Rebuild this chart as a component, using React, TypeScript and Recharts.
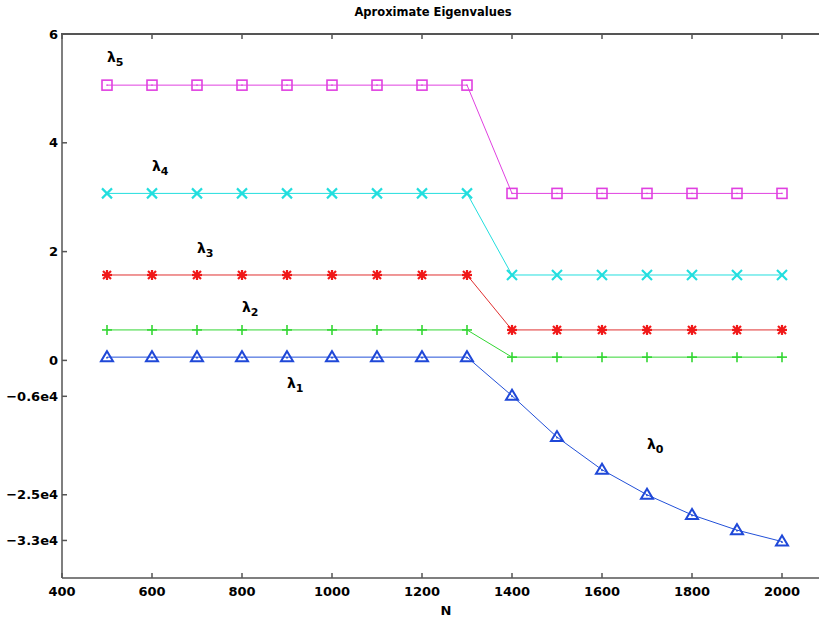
import { ComposedChart, Line, XAxis, YAxis, ReferenceDot } from "recharts";

// N values along the x axis
const nValues = [500, 600, 700, 800, 900, 1000, 1100, 1200, 1300, 1400, 1500, 1600, 1700, 1800, 1900, 2000];

// eigenvalue curves (upper part in plain units, lower blue part in 1e4 units)
const lambda5 = [5.06, 5.06, 5.06, 5.06, 5.06, 5.06, 5.06, 5.06, 5.06, 3.07, 3.07, 3.07, 3.07, 3.07, 3.07, 3.07];
const lambda4 = [3.07, 3.07, 3.07, 3.07, 3.07, 3.07, 3.07, 3.07, 3.07, 1.57, 1.57, 1.57, 1.57, 1.57, 1.57, 1.57];
const lambda3 = [1.57, 1.57, 1.57, 1.57, 1.57, 1.57, 1.57, 1.57, 1.57, 0.56, 0.56, 0.56, 0.56, 0.56, 0.56, 0.56];
const lambda2 = [0.56, 0.56, 0.56, 0.56, 0.56, 0.56, 0.56, 0.56, 0.56, 0.06, 0.06, 0.06, 0.06, 0.06, 0.06, 0.06];
const lambda1 = [0.06, 0.06, 0.06, 0.06, 0.06, 0.06, 0.06, 0.06, 0.06, -0.65, -1.41, -2.01, -2.47, -2.84, -3.12, -3.33];

const xTicks = [400, 600, 800, 1000, 1200, 1400, 1600, 1800, 2000];
const yTicks = [6, 4, 2, 0, -0.66, -2.47, -3.31];
const yTickLabels = ["6", "4", "2", "0", "\u22120.6e4", "\u22122.5e4", "\u22123.3e4"];

// curve labels: subscript, N, y
const labelSubs = ["5", "4", "3", "2", "1", "0"];
const labelN = [500, 600, 700, 800, 900, 1700];
const labelY = [5.58, 3.57, 2.07, 0.98, -0.41, -1.54];

const data = nValues.map((n, i) => ({
  N: n,
  l5: lambda5[i],
  l4: lambda4[i],
  l3: lambda3[i],
  l2: lambda2[i],
  l1: lambda1[i],
}));

const FONT = "'DejaVu Sans', sans-serif";
const AXIS = "#555";
const Y_TOP = 6;

const squareDot = (color: string) => (p: any) => (
  <g key={`s-${p.index}`}>
    <rect x={p.cx - 5} y={p.cy - 5} width={10} height={10} fill="none" stroke={color} strokeWidth={1.6} />
    <rect x={p.cx - 0.7} y={p.cy - 0.7} width={1.4} height={1.4} fill={color} />
  </g>
);

const crossDot = (color: string) => (p: any) => (
  <g key={`x-${p.index}`} stroke={color} strokeWidth={2.2}>
    <line x1={p.cx - 5} y1={p.cy - 5} x2={p.cx + 5} y2={p.cy + 5} />
    <line x1={p.cx - 5} y1={p.cy + 5} x2={p.cx + 5} y2={p.cy - 5} />
  </g>
);

const starDot = (color: string) => (p: any) => (
  <g key={`a-${p.index}`} stroke={color} strokeWidth={2.2}>
    <line x1={p.cx - 5} y1={p.cy} x2={p.cx + 5} y2={p.cy} />
    <line x1={p.cx} y1={p.cy - 5} x2={p.cx} y2={p.cy + 5} />
    <line x1={p.cx - 4} y1={p.cy - 4} x2={p.cx + 4} y2={p.cy + 4} />
    <line x1={p.cx - 4} y1={p.cy + 4} x2={p.cx + 4} y2={p.cy - 4} />
  </g>
);

const plusDot = (color: string) => (p: any) => (
  <g key={`p-${p.index}`} stroke={color} strokeWidth={1.6}>
    <line x1={p.cx - 5} y1={p.cy} x2={p.cx + 5} y2={p.cy} />
    <line x1={p.cx} y1={p.cy - 5} x2={p.cx} y2={p.cy + 5} />
  </g>
);

const triDot = (color: string) => (p: any) => (
  <g key={`t-${p.index}`}>
    <polygon
      points={`${p.cx},${p.cy - 6} ${p.cx - 6},${p.cy + 4} ${p.cx + 6},${p.cy + 4}`}
      fill="none"
      stroke={color}
      strokeWidth={2}
    />
    <rect x={p.cx - 0.8} y={p.cy - 0.2} width={1.6} height={1.6} fill={color} />
  </g>
);

const lambdaLabel = (sub: string) => (p: any) => (
  <text x={p.cx} y={p.cy + 5} fontFamily={FONT} fontWeight="bold" fontSize={14} fill="#000">
    λ
    <tspan fontSize={11} dy={4}>
      {sub}
    </tspan>
  </text>
);

// top frame tick pointing down into the plot
const topTick = (p: any) => (
  <line x1={p.cx} y1={p.cy} x2={p.cx} y2={p.cy + 5} stroke={AXIS} strokeWidth={1.5} />
);

const App = () => {
  const fmtY = (v: number) => {
    const i = yTicks.indexOf(v);
    return i >= 0 ? yTickLabels[i] : "";
  };
  const textStyle = {
    position: "absolute" as const,
    fontFamily: FONT,
    fontWeight: "bold" as const,
    color: "#000",
    lineHeight: "14px",
    textAlign: "center" as const,
  };
  return (
    <div style={{ position: "absolute", left: 0, top: 0, width: 819, height: 618, overflow: "hidden", background: "#fff" }}>
      <ComposedChart width={840} height={618} data={data} margin={{ top: 34, right: 13, bottom: 0, left: 0 }}>
        <XAxis
          dataKey="N"
          type="number"
          domain={[400, 2100]}
          ticks={xTicks}
          allowDataOverflow
          height={40}
          tickSize={-5}
          tickMargin={14}
          axisLine={{ stroke: AXIS, strokeWidth: 1.5 }}
          tickLine={{ stroke: AXIS, strokeWidth: 1.5 }}
          tick={{ fill: "#000", fontSize: 13, fontWeight: "bold", fontFamily: FONT }}
        />
        <YAxis
          type="number"
          domain={[-4, Y_TOP]}
          ticks={yTicks}
          width={62}
          interval={0}
          tickSize={-5}
          tickMargin={9}
          tickFormatter={fmtY}
          axisLine={{ stroke: AXIS, strokeWidth: 1.5 }}
          tickLine={{ stroke: AXIS, strokeWidth: 1.5 }}
          tick={{ fill: "#000", fontSize: 13, fontWeight: "bold", fontFamily: FONT }}
        />
        {xTicks.map((t) => (
          <ReferenceDot key={`tt-${t}`} x={t} y={Y_TOP} r={0} ifOverflow="visible" shape={topTick} />
        ))}
        <Line dataKey="l5" stroke="#e040e0" strokeWidth={1} dot={squareDot("#e040e0")} isAnimationActive={false} />
        <Line dataKey="l4" stroke="#22dede" strokeWidth={1} dot={crossDot("#22dede")} isAnimationActive={false} />
        <Line dataKey="l3" stroke="#e03030" strokeWidth={1} dot={starDot("#f01818")} isAnimationActive={false} />
        <Line dataKey="l2" stroke="#33d633" strokeWidth={1} dot={plusDot("#33d633")} isAnimationActive={false} />
        <Line dataKey="l1" stroke="#2250d8" strokeWidth={1} dot={triDot("#1f48d8")} isAnimationActive={false} />
        {labelSubs.map((s, i) => (
          <ReferenceDot key={s} x={labelN[i]} y={labelY[i]} r={0} shape={lambdaLabel(s)} />
        ))}
      </ComposedChart>
      {/* top frame line of the plot box */}
      <div style={{ position: "absolute", left: 61, top: 33, width: 760, height: 2, background: AXIS, zIndex: 5 }} />
      <div style={{ ...textStyle, left: 333, width: 200, top: 5, fontSize: 11.5 }}>Aproximate Eigenvalues</div>
      <div style={{ ...textStyle, left: 426, width: 40, top: 604, fontSize: 13 }}>N</div>
    </div>
  );
};

export default App;
